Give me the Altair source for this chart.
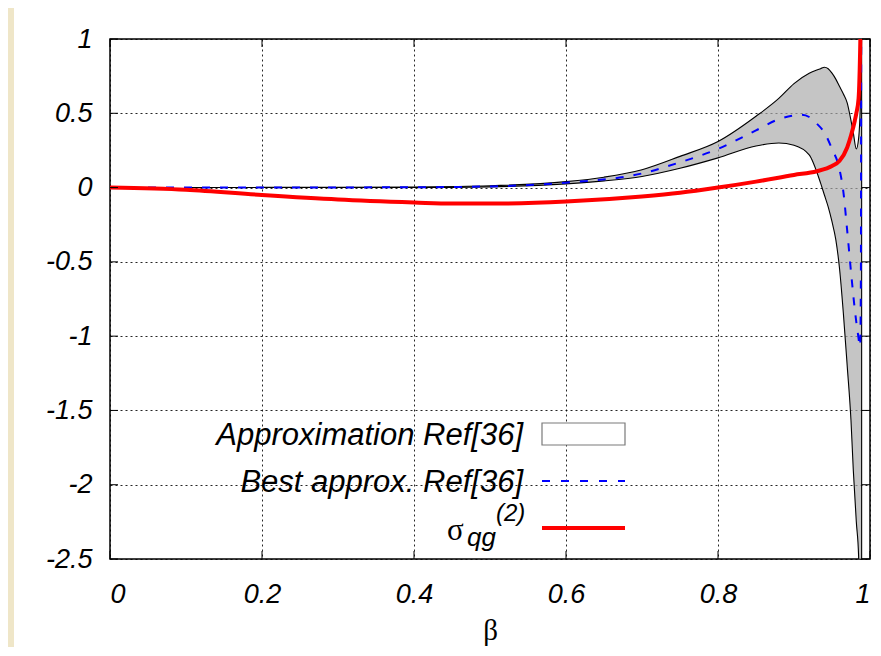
import altair as alt
import pandas as pd

# ---- data ----
beta_band = [0.1, 0.2, 0.3, 0.4, 0.5, 0.6, 0.65, 0.7, 0.75, 0.8, 0.85, 0.88, 0.9, 0.92,
             0.935, 0.94, 0.945, 0.95, 0.955, 0.96, 0.965, 0.97, 0.975, 0.978, 0.982,
             0.985, 0.9875, 0.989]
band_upper = [0.0, 0.001, 0.002, 0.004, 0.012, 0.04, 0.07, 0.12, 0.21, 0.31, 0.48, 0.60,
              0.70, 0.77, 0.80, 0.81, 0.80, 0.77, 0.73, 0.68, 0.63, 0.57, 0.45, 0.37, 0.26,
              0.33, 0.6, 1.6]
band_lower = [0.0, 0.0, 0.0, 0.0, 0.005, 0.025, 0.045, 0.075, 0.13, 0.20, 0.28, 0.30,
              0.285, 0.22, 0.03, -0.05, -0.13, -0.23, -0.35, -0.55, -0.85, -1.2, -1.57,
              -1.9, -2.25, -2.48, -3.0, -3.0]

beta_best = [0.05, 0.1, 0.2, 0.3, 0.4, 0.5, 0.6, 0.7, 0.75, 0.8, 0.85, 0.88, 0.9, 0.91,
             0.92, 0.93, 0.94, 0.95, 0.96, 0.965, 0.97, 0.976, 0.98, 0.984, 0.987, 0.988,
             0.9885]
best = [0.0, 0.0, 0.0, 0.001, 0.002, 0.008, 0.033, 0.095, 0.17, 0.26, 0.385, 0.46, 0.485,
        0.49, 0.475, 0.43, 0.37, 0.26, 0.12, -0.03, -0.29, -0.62, -0.82, -0.98, -1.07,
        -0.6, 1.5]

beta_sigma = [0.0, 0.1, 0.2, 0.3, 0.4, 0.45, 0.5, 0.6, 0.7, 0.75, 0.8, 0.85, 0.9, 0.93,
              0.95, 0.96, 0.97, 0.975, 0.98, 0.982, 0.985, 0.9875, 0.99]
sigma = [0.0, -0.015, -0.05, -0.08, -0.10, -0.108, -0.108, -0.094, -0.06, -0.035, 0.0,
         0.04, 0.085, 0.11, 0.145, 0.18, 0.27, 0.35, 0.45, 0.5, 0.6, 1.05, 2.0]

x_ticks = [0, 0.2, 0.4, 0.6, 0.8, 1]
y_ticks = [-2.5, -2, -1.5, -1, -0.5, 0, 0.5, 1]
legend_labels = ["Approximation Ref[36]", "Best approx. Ref[36]"]

band_df = pd.DataFrame({"beta": beta_band, "upper": band_upper, "lower": band_lower})
edge_df = band_df.tail(1)
best_df = pd.DataFrame({"beta": beta_best, "v": best})
sig_df = pd.DataFrame({"beta": beta_sigma, "v": sigma})
xt_df = pd.DataFrame({"t": x_ticks})
yt_df = pd.DataFrame({"t": y_ticks})
one = pd.DataFrame({"k": [0]})

W, H = 760, 520
xs = alt.Scale(domain=[0, 1], nice=False, zero=False)
ys = alt.Scale(domain=[-2.5, 1], nice=False, zero=False)

grid_kw = dict(gridColor="black", gridDash=[2, 3], gridOpacity=0.85, gridWidth=1)
xaxis = alt.Axis(values=x_ticks, grid=True, ticks=False, domain=False,
                 labelFont="Liberation Sans", labelFontStyle="italic", labelFontSize=27,
                 labelColor="black", labelPadding=22, labelExpr="datum.value + ''",
                 title="β", titleFont="Liberation Serif", titleFontSize=29,
                 titleFontWeight="normal", titleColor="black", titleY=80,
                 titleBaseline="alphabetic", **grid_kw)
yaxis = alt.Axis(values=y_ticks, grid=True, ticks=False, domain=False,
                 labelFont="Liberation Sans", labelFontStyle="italic", labelFontSize=27,
                 labelColor="black", labelPadding=18, labelExpr="datum.value + ''",
                 title=None, **grid_kw)

X = alt.X("beta:Q", scale=xs, axis=xaxis)

area = alt.Chart(band_df).mark_area(color="#a9a9a9", fillOpacity=0.68, clip=True,
                                    interpolate="monotone").encode(
    x=X, y=alt.Y("upper:Q", scale=ys, axis=yaxis), y2="lower:Q")
up_line = alt.Chart(band_df).mark_line(color="black", strokeWidth=1.1, clip=True,
                                       interpolate="monotone").encode(
    x=alt.X("beta:Q", scale=xs), y=alt.Y("upper:Q", scale=ys))
lo_line = alt.Chart(band_df).mark_line(color="black", strokeWidth=1.1, clip=True,
                                       interpolate="monotone").encode(
    x=alt.X("beta:Q", scale=xs), y=alt.Y("lower:Q", scale=ys))
edge = alt.Chart(edge_df).mark_rule(color="black", strokeWidth=1.1, clip=True).encode(
    x=alt.X("beta:Q", scale=xs), y=alt.Y("upper:Q", scale=ys), y2="lower:Q")
best_line = alt.Chart(best_df).mark_line(color="#0000ff", strokeWidth=2, strokeDash=[8, 10],
                                         clip=True, interpolate="monotone").encode(
    x=alt.X("beta:Q", scale=xs), y=alt.Y("v:Q", scale=ys))
sig_line = alt.Chart(sig_df).mark_line(color="#ff0000", strokeWidth=4, clip=True,
                                       interpolate="monotone").encode(
    x=alt.X("beta:Q", scale=xs), y=alt.Y("v:Q", scale=ys))

# inward (mirrored) ticks
tick_style = dict(color="black", strokeWidth=1)
xt_bot = alt.Chart(xt_df).mark_rule(**tick_style).encode(
    x=alt.X("t:Q", scale=xs), y=alt.value(H), y2=alt.value(H - 8))
xt_top = alt.Chart(xt_df).mark_rule(**tick_style).encode(
    x=alt.X("t:Q", scale=xs), y=alt.value(0), y2=alt.value(8))
yt_left = alt.Chart(yt_df).mark_rule(**tick_style).encode(
    y=alt.Y("t:Q", scale=ys), x=alt.value(0), x2=alt.value(8))
yt_right = alt.Chart(yt_df).mark_rule(**tick_style).encode(
    y=alt.Y("t:Q", scale=ys), x=alt.value(W - 8), x2=alt.value(W))

# beige strip to the left of the white panel
strip = alt.Chart(one).mark_rect(color="#efe6c8").encode(
    x=alt.value(-102), x2=alt.value(-96), y=alt.value(-31), y2=alt.value(H + 90))

# legend
leg_font = dict(font="Liberation Sans", fontStyle="italic", fontSize=31, color="black",
                align="right", baseline="alphabetic")
leg1 = alt.Chart(one).mark_text(**leg_font).encode(
    x=alt.value(413), y=alt.value(406), text=alt.value(legend_labels[0]))
box = alt.Chart(one).mark_rect(fill="white", stroke="#7a7a7a", strokeWidth=1.2).encode(
    x=alt.value(432), x2=alt.value(515), y=alt.value(384), y2=alt.value(406))
leg2 = alt.Chart(one).mark_text(**leg_font).encode(
    x=alt.value(413), y=alt.value(453), text=alt.value(legend_labels[1]))
dash = alt.Chart(one).mark_rule(color="#0000ff", strokeWidth=2, strokeDash=[8, 11]).encode(
    x=alt.value(432), x2=alt.value(515), y=alt.value(442))
sig_sym = alt.Chart(one).mark_text(font="Liberation Serif", fontSize=31, color="black",
                                   align="left", baseline="alphabetic").encode(
    x=alt.value(337), y=alt.value(501), text=alt.value("σ"))
sig_sub = alt.Chart(one).mark_text(font="Liberation Sans", fontStyle="italic", fontSize=26,
                                   color="black", align="left", baseline="alphabetic").encode(
    x=alt.value(357), y=alt.value(507), text=alt.value("qg"))
sig_sup = alt.Chart(one).mark_text(font="Liberation Sans", fontStyle="italic", fontSize=24,
                                   color="black", align="left", baseline="alphabetic").encode(
    x=alt.value(386), y=alt.value(482), text=alt.value("(2)"))
red_leg = alt.Chart(one).mark_rule(color="#ff0000", strokeWidth=4).encode(
    x=alt.value(432), x2=alt.value(515), y=alt.value(489))

chart = alt.layer(
    strip, area, up_line, lo_line, edge, best_line, sig_line,
    xt_bot, xt_top, yt_left, yt_right,
    leg1, box, leg2, dash, sig_sym, sig_sub, sig_sup, red_leg,
).properties(
    width=W, height=H,
    autosize=alt.AutoSizeParams(type="none"),
    padding={"left": 102, "top": 31, "right": 3, "bottom": 88},
    background="white",
).configure_view(stroke="black", strokeWidth=1.5, fill="white")

chart.save("out.html", embed_options={"renderer": "svg", "actions": False})
